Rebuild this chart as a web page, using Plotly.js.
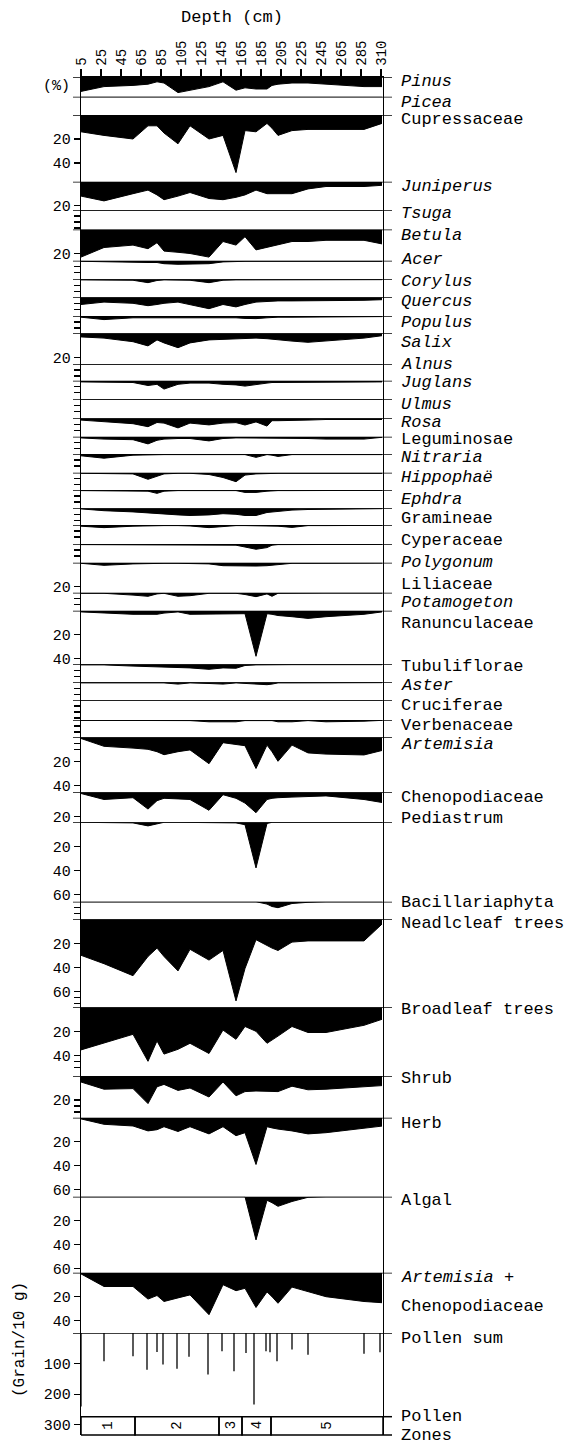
<!DOCTYPE html>
<html><head><meta charset="utf-8">
<script src="https://cdn.plot.ly/plotly-3.0.1.min.js"></script>
<style>html,body{margin:0;padding:0;background:#fff}#chart{width:570px;height:1444px}</style>
</head><body><div id="chart"></div>
<script>
// ---------------- DATA ----------------
const depth = [5, 28, 57, 72, 81, 88, 102, 114, 133, 147, 160, 169, 180, 191, 196, 202, 216, 232, 250, 288, 306];
const depthTickPos = [5, 25, 45, 65, 85, 105, 125, 145, 165, 185, 205, 225, 245, 265, 285, 305];
const depthTickText = ['5','25','45','65','85','105','125','145','165','185','205','225','245','265','285','310'];

const taxa = ['Pinus','Picea','Cupressaceae','Juniperus','Tsuga','Betula','Acer','Corylus','Quercus','Populus',
  'Salix','Alnus','Juglans','Ulmus','Rosa','Leguminosae','Nitraria','Hippophaë','Ephdra','Gramineae',
  'Cyperaceae','Polygonum','Liliaceae','Potamogeton','Ranunculaceae','Tubuliflorae','Aster','Cruciferae','Verbenaceae','Artemisia',
  'Chenopodiaceae','Pediastrum','Bacillariaphyta','Neadlcleaf trees','Broadleaf trees','Shrub','Herb','Algal','Artemisia +'];
const italicTaxa = ['Pinus','Picea','Juniperus','Tsuga','Betula','Acer','Corylus','Quercus','Populus','Salix','Alnus',
  'Juglans','Ulmus','Rosa','Nitraria','Hippophaë','Ephdra','Polygonum','Potamogeton','Aster','Artemisia','Artemisia +'];

const pinus          = [12, 8, 7, 6, 4, 5, 13, 11, 8, 4, 11, 9, 10, 10, 7, 6, 5, 5, 6, 8, 8];
const picea          = [0, 0, 0, 0, 0, 0, 0, 0, 0, 0, 0, 0, 0, 0, 0, 0, 0, 0, 0, 0, 0];
const cupressaceae   = [14, 17, 20, 9, 9, 15, 24, 9, 20, 17, 48, 13, 14, 7, 11, 17, 13, 12, 12, 12, 7];
const juniperus      = [12, 16, 10, 7, 11, 15, 12, 9, 14, 15, 13, 11, 7, 10, 10, 10, 10, 6, 4, 4, 3];
const tsuga          = [0, 0, 0, 0, 0, 0, 0, 0, 0, 0, 0, 0, 0, 0, 0, 0, 0, 0, 0, 0, 0];
const betula         = [23, 15, 13, 16, 11, 18, 19, 20, 23, 10, 13, 6, 17, 15, 14, 13, 10, 10, 9, 9, 12];
const acer           = [0.5, 1, 1.5, 1.5, 1.5, 2.5, 3, 3, 2.5, 1, 0.5, 0.5, 0.5, 0.5, 0.5, 0.5, 0.5, 0.5, 0.5, 0.5, 0.5];
const corylus        = [0.5, 0.5, 0.8, 2.8, 1, 0.5, 0.5, 0.8, 2.8, 0.8, 0.5, 0.5, 0.5, 0.5, 0.5, 0.5, 0.5, 0.5, 0.5, 0.3, 0.3];
const quercus        = [6, 4, 5, 7, 6, 5, 4, 6, 9.5, 6, 8, 6, 4, 3.5, 3, 3, 3, 3, 3, 2.5, 2];
const populus        = [1, 3, 1.5, 1.5, 1, 1, 1, 1, 1, 1, 1.5, 2, 2.2, 1.5, 1, 1, 1, 1, 1, 1, 0.5];
const salix          = [3, 4, 7, 10.5, 5.5, 8, 12, 8, 5.5, 5, 4.5, 4, 4, 4.5, 5, 5.5, 6.5, 7.5, 6.5, 4, 2];
const alnus          = [0, 0, 0, 0, 0, 0, 0, 0, 0, 0, 0, 0, 0, 0, 0, 0, 0, 0, 0, 0, 0];
const juglans        = [1, 1, 1.5, 4, 3, 7, 3, 2, 2, 3, 3.5, 4.5, 3, 2, 1.5, 1.5, 1.5, 1.5, 1, 1, 1];
const ulmus          = [0, 0, 0, 0, 0, 0, 0, 0, 0, 0, 0, 0, 0, 0, 0, 0, 0, 0, 0, 0, 0];
const rosa           = [1.5, 3, 4.5, 7, 3.5, 4, 8, 4, 5.5, 4, 3.6, 5.6, 3, 6.5, 2, 2, 1.5, 1.5, 1, 1, 1];
const leguminosae    = [1, 2, 2.5, 6, 3, 2, 1.5, 1.5, 3.5, 1.5, 1, 1, 1, 1, 1, 1, 1, 1.5, 2, 2, 0.5];
const nitraria       = [1.5, 3.5, 1, 0.5, 0.5, 0.5, 0.5, 0.5, 0.5, 0.5, 0.5, 0.5, 2.8, 0.5, 1, 2, 0.5, 0.5, 0.5, 0.5, 0.5];
const hippophae      = [0.5, 0.5, 1, 5.5, 3, 1, 0.5, 0.5, 1.5, 4, 7.5, 2, 1, 0.5, 0.5, 0.5, 0.5, 0.5, 0.5, 0.5, 0.5];
const ephdra         = [0.5, 0.5, 0.5, 1, 2.8, 1, 0.5, 0.5, 0.5, 0.5, 0.5, 2, 2, 1, 0.5, 0.5, 0.5, 0.5, 0.5, 0.5, 0.3];
const gramineae      = [0.5, 2, 3, 4, 4.5, 5, 5.5, 6, 5.5, 4.5, 5, 6, 6, 3.5, 3, 2.5, 1.5, 1, 0.8, 0.5, 0.3];
const cyperaceae     = [1, 2.2, 1, 0.5, 0.5, 0.5, 0.5, 0.8, 2.2, 1, 0.5, 0.5, 0.5, 0.5, 0.5, 1, 2, 0.5, 0.5, 0.5, 0.3];
const polygonum      = [0.5, 0.5, 0.5, 0.5, 0.5, 0.5, 0.5, 0.5, 0.5, 0.5, 1, 2.5, 4.4, 3, 1, 0.5, 0.5, 0.5, 0.5, 0.5, 0.3];
const liliaceae      = [0.5, 2.2, 1, 0.5, 0.5, 0.5, 0.5, 0.5, 1, 2.5, 2.8, 3, 2.8, 2.5, 2, 1.5, 0.5, 0.5, 0.5, 0.5, 0.3];
const potamogeton    = [0.5, 0.5, 2, 3, 1, 0.5, 3, 2.5, 0.5, 0.5, 0.5, 1.5, 3.3, 1, 3, 0.5, 0.3, 0.3, 0.3, 0.3, 0.3];
const ranunculaceae  = [1, 2, 3, 3, 3, 2, 1, 3, 3, 2.5, 2.5, 2.5, 38, 2.5, 3, 4, 5, 6.4, 5, 3, 1];
const tubuliflorae   = [0.5, 0.5, 1.5, 2, 2, 2.5, 2.5, 3, 4.2, 3, 3.3, 1, 0.5, 0.3, 0.3, 0.3, 0.3, 0.3, 0.3, 0.3, 0.3];
const aster          = [0.5, 0.5, 0.5, 0.5, 0.5, 0.5, 1.5, 0.5, 1, 1.5, 0.5, 1, 1.5, 2, 1.5, 0.5, 0.5, 0.5, 0.5, 0.5, 0.3];
const cruciferae     = [0, 0, 0, 0, 0, 0, 0, 0, 0, 0, 0, 0, 0, 0, 0, 0, 0, 0, 0, 0, 0];
const verbenaceae    = [0.3, 0.3, 0.3, 0.3, 0.3, 0.3, 0.5, 0.5, 1.5, 1.7, 1.5, 0.5, 0.5, 0.5, 0.5, 1.5, 1.5, 0.5, 1.5, 1, 0.3];
const artemisia      = [1, 7.5, 9, 10, 12, 14.5, 12, 10.5, 22, 4.5, 6, 7, 26, 6.5, 12, 20, 6.5, 13, 14, 14.7, 11];
const chenopodiaceae = [1, 6, 4.5, 14, 7, 5, 5.5, 6, 15, 2, 5, 9, 17, 6, 5, 4.5, 4, 3.5, 3, 6, 8.5];
const pediastrum     = [0, 0, 0.5, 3, 1, 0, 0, 0, 0, 0, 0.5, 2, 38, 1, 0, 0, 0, 0, 0, 0, 0];
const bacillariaphyta= [0, 0, 0, 0, 0, 0, 0, 0, 0, 0, 0, 0, 0, 2, 4, 5, 1.5, 0.5, 0, 0, 0];
const needleleaf     = [30, 37, 47, 31, 24, 31, 43, 25, 34, 26, 68, 41, 17, 22, 24, 26, 19, 18, 18, 18, 4];
const broadleaf      = [35.5, 30, 22.5, 45, 28, 39, 35, 30, 38.5, 19, 26.7, 16, 20, 30, 27.5, 24, 16, 21, 21, 15, 10];
const shrub          = [5, 11, 10.5, 23, 9, 7, 12, 10, 17.5, 5, 16.5, 13, 12.5, 12.5, 12.5, 13, 8.5, 11.5, 11, 9, 8];
const herb           = [1, 5.5, 6.9, 11, 10, 7.5, 11.5, 7.5, 13.5, 7.5, 15, 12.5, 39, 7.5, 8.5, 9.5, 11, 13.5, 12.5, 9, 7];
const algal          = [0, 0, 0, 0, 0, 0, 0, 0, 0, 0, 0, 0, 36, 3, 5, 8, 4, 0.5, 0, 0, 0];
const artChen        = [1, 11.5, 11.5, 22, 19, 24, 21, 18.5, 35, 10, 15, 13, 29, 16, 20, 25.5, 12, 16, 20, 24, 25];

const series = [pinus, picea, cupressaceae, juniperus, tsuga, betula, acer, corylus, quercus, populus,
  salix, alnus, juglans, ulmus, rosa, leguminosae, nitraria, hippophae, ephdra, gramineae,
  cyperaceae, polygonum, liliaceae, potamogeton, ranunculaceae, tubuliflorae, aster, cruciferae, verbenaceae, artemisia,
  chenopodiaceae, pediastrum, bacillariaphyta, needleleaf, broadleaf, shrub, herb, algal, artChen];

const sumDepth = [5, 28, 57, 71, 81, 87, 101, 113, 132, 146, 158, 170, 178, 190, 194, 201, 216, 232, 288, 304];
const pollenSum = [240, 92, 76, 120, 62, 103, 117, 78, 136, 60, 125, 65, 234, 60, 63, 92, 54, 71, 68, 63];

const zoneEdges = [5, 59, 143, 166, 195, 307];
const zoneNames = ['1', '2', '3', '4', '5'];

// ---------------- LAYOUT (positions in page pixels) ----------------
const panelTop = [77, 96.7, 115, 181.7, 210, 229.5, 260.7, 279.3, 297.3, 316,
  333.3, 364, 380.7, 399.3, 418.3, 436.7, 454, 472.7, 490, 508.3,
  525, 544, 562.7, 592.7, 610.7, 664.3, 682.3, 700, 720, 737.3,
  792.3, 822.3, 901.7, 919.3, 1007.3, 1076, 1117.7, 1196.7, 1272.7, 1333];
const labelY = [82, 102, 119.5, 186, 214, 235, 260, 281, 302, 322,
  343, 364, 382, 404, 422, 440, 457, 477, 499, 518,
  540, 562, 584, 602, 623, 666, 685, 705, 725, 744,
  797, 819, 903, 923, 1009, 1078, 1123, 1200, 1277, 1338];
const tickLab = {2:[20,40], 3:[20], 5:[20], 10:[20], 22:[20], 24:[20,40], 29:[20,40], 30:[20], 31:[20,40,60],
  33:[20,40,60], 34:[20,40], 35:[20], 36:[20,40,60], 37:[20,40,60], 38:[20,40], 39:[100,200,300]};
const tickMinor = {29:[5,10], 33:[65,70], 34:[45,50], 35:[25,30]};
const smallPanels = [4,6,7,8,9,11,12,13,14,15,16,17,18,19,20,21,23,25,26,27,28,32];

const T = 77, B = 1435, H = B - T, L = 81, W = 302;
const py = p => Math.min(1, Math.max(0, 1 - (p - T) / H));
const px = p => (p - L) / W;
const SCALE = 1.2;      // px per percent
const SUM_SCALE = 0.306; // px per grain
const FONT = 'Liberation Mono, Courier New, monospace';

const layout = {
  width: 570, height: 1444,
  margin: {l: L, r: 570 - L - W, t: T, b: 1444 - B},
  paper_bgcolor: '#fff', plot_bgcolor: '#fff',
  showlegend: false,
  font: {family: FONT, color: '#000', size: 14},
  xaxis: {
    side: 'top', anchor: 'y', range: [5, 307], domain: [0, 1],
    tickmode: 'array', tickvals: depthTickPos, ticktext: depthTickText, tickangle: -90,
    ticks: 'outside', ticklen: 7, tickwidth: 1.2, tickcolor: '#000',
    showline: true, linecolor: '#000', linewidth: 1.5, showgrid: false, zeroline: false,
    tickfont: {family: FONT, size: 14, color: '#000'},
    title: {text: 'Depth (cm)', font: {family: FONT, size: 17, color: '#000'}, standoff: 13}
  },
  shapes: [], annotations: []
};

const traces = [];
for (let i = 0; i < 40; i++) {
  const top = panelTop[i];
  const bot = i < 39 ? panelTop[i + 1] : B;
  const isSum = i === 39;
  const rmax = (bot - top) / (isSum ? SUM_SCALE : SCALE);
  const key = i === 0 ? 'yaxis' : 'yaxis' + (i + 1);
  const ref = i === 0 ? 'y' : 'y' + (i + 1);
  const tv = [], tt = [];
  (tickLab[i] || []).forEach(v => { tv.push(v); tt.push(String(v)); });
  (tickMinor[i] || []).forEach(v => { tv.push(v); tt.push(''); });
  if (smallPanels.includes(i)) {
    for (let v = 5; v < rmax - 1; v += 5) { tv.push(v); tt.push(''); }
  }
  layout[key] = {
    domain: [py(bot), py(top)], range: [rmax, 0], anchor: 'x',
    showline: true, mirror: true, linecolor: '#000', linewidth: 1.2,
    ticks: 'outside', ticklen: 6, tickwidth: 1.2, tickcolor: '#000',
    tickmode: 'array', tickvals: tv, ticktext: tt,
    tickfont: {family: FONT, size: 15, color: '#000'},
    showgrid: false, zeroline: false
  };
  // panel baseline
  layout.shapes.push({type: 'line', xref: 'paper', yref: ref, x0: px(73), x1: px(392), y0: 0, y1: 0,
    line: {color: '#000', width: 1.6}});
  if (!isSum) {
    traces.push({type: 'scatter', mode: 'lines', x: depth, y: series[i], xaxis: 'x', yaxis: ref,
      fill: 'tozeroy', fillcolor: '#000', line: {color: '#000', width: 1}, hoverinfo: 'skip'});
    const name = taxa[i];
    let txt = italicTaxa.includes(name) ? '<i>' + name + '</i>' : name;
    if (name === 'Artemisia +') txt = '<i>Artemisia</i> +';
    layout.annotations.push({xref: 'paper', yref: 'paper', x: px(399), y: py(labelY[i]), xanchor: 'left', yanchor: 'middle',
      text: txt, showarrow: false, font: {family: FONT, size: 17, color: '#000'}});
  } else {
    traces.push({type: 'bar', x: sumDepth, y: pollenSum, xaxis: 'x', yaxis: ref, width: 1.3,
      marker: {color: '#000', line: {width: 0}}, hoverinfo: 'skip'});
    layout.annotations.push({xref: 'paper', yref: 'paper', x: px(399), y: py(labelY[i]), xanchor: 'left', yanchor: 'middle',
      text: 'Pollen sum', showarrow: false, font: {family: FONT, size: 17, color: '#000'}});
  }
}
// second line of the Artemisia + label
layout.annotations.push({xref: 'paper', yref: 'paper', x: px(399), y: py(1306), xanchor: 'left', yanchor: 'middle',
  text: 'Chenopodiaceae', showarrow: false, font: {family: FONT, size: 17, color: '#000'}});

// pollen zones
const zTop = 1416.7, zBot = 1435;
for (let k = 0; k < zoneNames.length; k++) {
  layout.shapes.push({type: 'rect', xref: 'x', yref: 'paper', x0: zoneEdges[k], x1: zoneEdges[k + 1],
    y0: py(zBot), y1: py(zTop), line: {color: '#000', width: 1.5}, fillcolor: 'rgba(0,0,0,0)'});
  layout.annotations.push({xref: 'x', yref: 'paper', x: (zoneEdges[k] + zoneEdges[k + 1]) / 2, y: py((zTop + zBot) / 2),
    xanchor: 'center', yanchor: 'middle',
    text: zoneNames[k], textangle: -90, showarrow: false, font: {family: FONT, size: 14, color: '#000'}});
}
[zTop, zBot].forEach(p => layout.shapes.push({type: 'line', xref: 'paper', yref: 'paper', x0: px(383), x1: px(392),
  y0: py(p), y1: py(p), line: {color: '#000', width: 1.5}}));
layout.annotations.push({xref: 'paper', yref: 'paper', x: px(399), y: py(1416), xanchor: 'left', yanchor: 'middle',
  text: 'Pollen', showarrow: false, font: {family: FONT, size: 17, color: '#000'}});
layout.annotations.push({xref: 'paper', yref: 'paper', x: px(399), y: py(1435), xanchor: 'left', yanchor: 'middle',
  text: 'Zones', showarrow: false, font: {family: FONT, size: 17, color: '#000'}});

// axis unit labels
layout.annotations.push({xref: 'paper', yref: 'paper', x: px(56), y: py(87), xanchor: 'center', yanchor: 'middle',
  text: '(%)', showarrow: false, font: {family: FONT, size: 15, color: '#000'}});
layout.annotations.push({xref: 'paper', yref: 'paper', x: px(20), y: py(1340), xanchor: 'center', yanchor: 'middle',
  text: '(Grain/10 g)', textangle: -90, showarrow: false, font: {family: FONT, size: 16, color: '#000'}});

Plotly.newPlot('chart', traces, layout, {staticPlot: true, displayModeBar: false});
</script>
</body></html>
